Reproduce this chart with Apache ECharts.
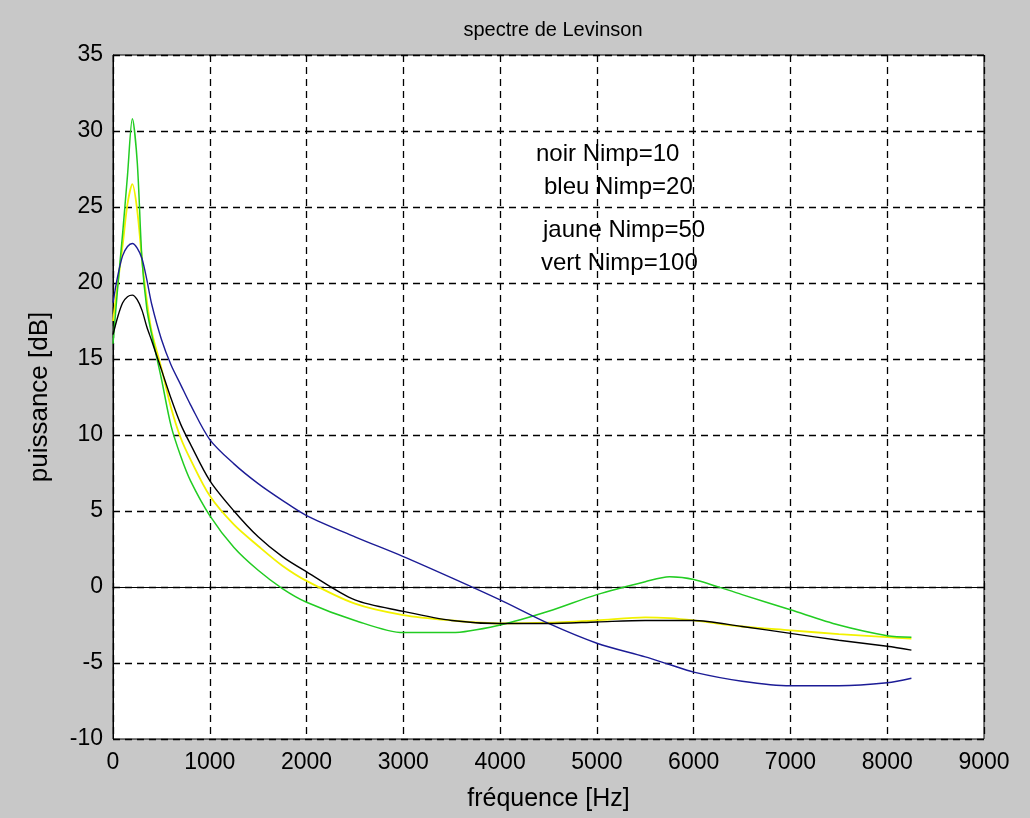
<!DOCTYPE html>
<html>
<head>
<meta charset="utf-8">
<title>spectre de Levinson</title>
<script src="https://cdn.jsdelivr.net/npm/echarts@6/dist/echarts.min.js"></script>
<style>
  html, body { margin: 0; padding: 0; background: #c8c8c8; }
  #chart { width: 1030px; height: 818px; }
</style>
</head>
<body>
<div id="chart"></div>
<script>
// Frequency samples (Hz)
const freq = [0, 50, 100, 150, 200, 250, 300, 350, 400, 500, 600, 700, 800, 1000, 1250, 1500, 1750, 2000,
  2500, 3000, 3500, 4000, 4500, 5000, 5500, 5750, 6000, 6500, 7000, 7500, 8000, 8250];

// Levinson spectra (dB) for each model order
const noir10 = [16.6, 17.8, 18.7, 19.1, 19.2, 18.9, 18.2, 17.1, 16.2, 14.3, 12.4, 10.7, 9.4, 7.0, 5.0, 3.3, 2.0, 1.0,
  -0.85, -1.6, -2.2, -2.4, -2.4, -2.3, -2.2, -2.2, -2.2, -2.6, -3.05, -3.5, -3.9, -4.15];
const bleu20 = [18.7, 20.5, 21.8, 22.4, 22.6, 22.3, 21.6, 20.2, 18.6, 16.3, 14.6, 13.3, 12.0, 9.7, 8.1, 6.8, 5.7, 4.7,
  3.3, 2.0, 0.6, -0.85, -2.4, -3.7, -4.6, -5.1, -5.6, -6.2, -6.5, -6.5, -6.3, -6.0];
const jaune50 = [17.5, 20.0, 22.5, 25.2, 26.5, 24.8, 21.5, 18.8, 16.8, 14.4, 11.8, 9.8, 8.4, 6.0, 4.1, 2.7, 1.4, 0.4,
  -1.1, -1.85, -2.2, -2.4, -2.35, -2.2, -2.0, -2.05, -2.2, -2.6, -2.85, -3.1, -3.3, -3.4];
const vert100 = [16.0, 19.8, 23.3, 27.1, 30.8, 28.0, 21.5, 18.3, 16.6, 13.7, 10.6, 8.6, 7.0, 4.7, 2.6, 1.1, -0.1, -1.0,
  -2.2, -3.0, -3.0, -2.5, -1.6, -0.5, 0.35, 0.68, 0.5, -0.5, -1.5, -2.5, -3.2, -3.3];

// Annotation lines
const legendLines = ['noir Nimp=10', 'bleu Nimp=20', 'jaune Nimp=50', 'vert Nimp=100'];

// Axis ticks
const xTicks = [0, 1000, 2000, 3000, 4000, 5000, 6000, 7000, 8000, 9000];
const yTicks = [-10, -5, 0, 5, 10, 15, 20, 25, 30, 35];

const FONT = '"Liberation Sans", Arial, sans-serif';

function pairs(vals) { return freq.map((f, i) => [f, vals[i]]); }

const chart = echarts.init(document.getElementById('chart'), null, { renderer: 'canvas' });

const gridLine = { show: true, lineStyle: { color: '#000', width: 1.3, type: [7, 5] } };

function lineSeries(name, vals, color, width, z) {
  return {
    name: name, type: 'line', data: pairs(vals), showSymbol: false, symbol: 'none',
    smooth: 0.3, z: z, lineStyle: { color: color, width: width }, animation: false
  };
}

const legendPos = [[536, 156], [544, 189], [543, 232], [541, 265]];

chart.setOption({
  backgroundColor: '#c8c8c8',
  animation: false,
  title: {
    text: 'spectre de Levinson', left: 548, top: 15, textAlign: 'center',
    textStyle: { fontFamily: FONT, fontSize: 20, fontWeight: 'normal', color: '#000' }
  },
  grid: {
    left: 113, right: 46, top: 55, bottom: 79, show: true,
    backgroundColor: '#fff', borderColor: '#000', borderWidth: 1
  },
  xAxis: {
    type: 'value', min: xTicks[0], max: xTicks[xTicks.length - 1], interval: 1000,
    name: 'fréquence [Hz]', nameLocation: 'middle', nameGap: 48,
    nameTextStyle: { fontFamily: FONT, fontSize: 25, color: '#000' },
    axisLine: { show: true, lineStyle: { color: '#000', width: 1 } },
    axisTick: { show: true, inside: true, length: 6, lineStyle: { color: '#000' } },
    axisLabel: { fontFamily: FONT, fontSize: 23, color: '#000', margin: 12,
      formatter: v => String(v) },
    splitLine: gridLine
  },
  yAxis: {
    type: 'value', min: yTicks[0], max: yTicks[yTicks.length - 1], interval: 5,
    name: 'puissance [dB]', nameLocation: 'middle', nameGap: 60, nameRotate: 90,
    nameTextStyle: { fontFamily: FONT, fontSize: 26, color: '#000' },
    axisLine: { show: true, lineStyle: { color: '#000', width: 1 } },
    axisTick: { show: true, inside: true, length: 6, lineStyle: { color: '#000' } },
    axisLabel: { fontFamily: FONT, fontSize: 23, color: '#000', margin: 10,
      formatter: v => String(v) },
    splitLine: gridLine
  },
  graphic: legendLines.map((t, i) => ({
    type: 'text', left: legendPos[i][0], top: legendPos[i][1] - 14, z: 100,
    style: { text: t, fontFamily: FONT, fontSize: 24, fill: '#000' }
  })),
  series: [
    lineSeries('jaune Nimp=50', jaune50, '#f2f200', 1.8, 2),
    lineSeries('vert Nimp=100', vert100, '#22cc22', 1.5, 3),
    lineSeries('bleu Nimp=20', bleu20, '#1c1c96', 1.4, 4),
    lineSeries('noir Nimp=10', noir10, '#000000', 1.4, 5)
  ]
});
</script>
</body>
</html>
